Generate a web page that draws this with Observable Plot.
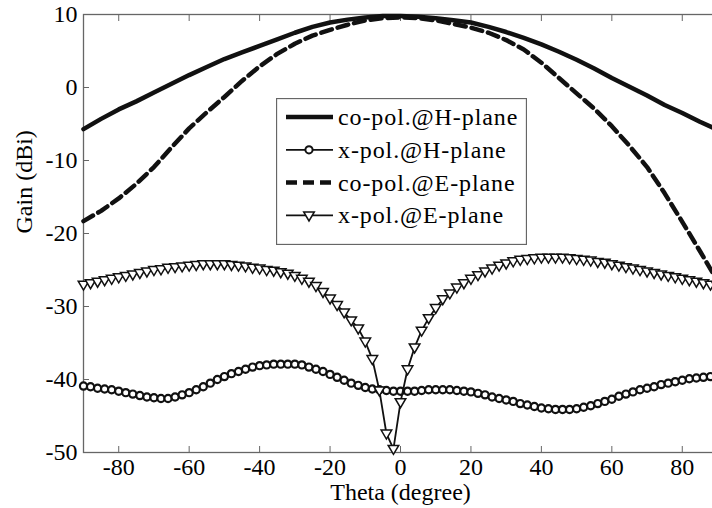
<!DOCTYPE html>
<html><head><meta charset="utf-8">
<script src="https://cdn.jsdelivr.net/npm/d3@7"></script>
<script src="https://cdn.jsdelivr.net/npm/@observablehq/plot@0.6"></script>
<style>
body{margin:0;background:#fff;}
#wrap{position:relative;width:712px;height:508px;overflow:hidden;background:#fff;}
#wrap svg text{font-family:'Liberation Serif','Times New Roman',serif;}
</style></head><body><div id="wrap"></div>
<script>
const xTicks = [-80, -60, -40, -20, 0, 20, 40, 60, 80];
const yTicks = [-50, -40, -30, -20, -10, 0, 10];
const seriesNames = ["co-pol.@H-plane", "x-pol.@H-plane", "co-pol.@E-plane", "x-pol.@E-plane"];

const theta5 = [-90,-85,-80,-75,-70,-65,-60,-55,-50,-45,-40,-35,-30,-25,-20,-15,-10,-5,0,5,10,15,20,25,30,35,40,45,50,55,60,65,70,75,80,85,90];
const coPolH = [-5.7,-4.3,-3.0,-1.9,-0.7,0.5,1.7,2.8,3.9,4.8,5.7,6.6,7.5,8.3,8.9,9.3,9.6,9.8,9.8,9.7,9.5,9.2,8.9,8.3,7.6,6.8,5.9,4.9,3.8,2.6,1.3,0.1,-1.1,-2.4,-3.5,-4.7,-5.8];
const coPolE = [-18.3,-16.9,-15.2,-13.2,-10.9,-8.2,-5.6,-3.4,-1.3,0.9,2.9,4.6,6.0,7.1,7.9,8.6,9.2,9.5,9.6,9.5,9.2,8.7,8.2,7.5,6.5,5.2,3.4,1.3,-0.8,-2.9,-5.3,-8.0,-10.9,-14.5,-18.4,-22.4,-26.5];

const theta2 = [-90,-88,-86,-84,-82,-80,-78,-76,-74,-72,-70,-68,-66,-64,-62,-60,-58,-56,-54,-52,-50,-48,-46,-44,-42,-40,-38,-36,-34,-32,-30,-28,-26,-24,-22,-20,-18,-16,-14,-12,-10,-8,-6,-4,-2,0,2,4,6,8,10,12,14,16,18,20,22,24,26,28,30,32,34,36,38,40,42,44,46,48,50,52,54,56,58,60,62,64,66,68,70,72,74,76,78,80,82,84,86,88,90];
const xPolH = [-40.9,-41.0,-41.2,-41.3,-41.4,-41.6,-41.8,-42.0,-42.2,-42.4,-42.5,-42.6,-42.6,-42.4,-42.1,-41.8,-41.4,-41.0,-40.5,-40.0,-39.6,-39.2,-38.9,-38.6,-38.3,-38.1,-38.0,-37.9,-37.9,-37.9,-37.9,-38.0,-38.3,-38.6,-38.9,-39.3,-39.7,-40.1,-40.5,-40.8,-41.1,-41.3,-41.4,-41.5,-41.6,-41.6,-41.6,-41.6,-41.5,-41.4,-41.4,-41.4,-41.4,-41.5,-41.6,-41.7,-41.9,-42.1,-42.4,-42.6,-42.8,-43.0,-43.3,-43.5,-43.7,-43.9,-44.0,-44.1,-44.1,-44.1,-44.0,-43.8,-43.6,-43.3,-43.0,-42.7,-42.3,-42.0,-41.7,-41.4,-41.2,-41.0,-40.7,-40.5,-40.3,-40.1,-39.9,-39.8,-39.7,-39.6,-39.5];
const xPolE = [-27.0,-26.8,-26.6,-26.4,-26.2,-26.0,-25.8,-25.6,-25.4,-25.2,-25.0,-24.9,-24.7,-24.6,-24.5,-24.4,-24.3,-24.2,-24.2,-24.2,-24.2,-24.3,-24.4,-24.5,-24.7,-24.8,-25.0,-25.1,-25.3,-25.5,-25.8,-26.2,-26.6,-27.2,-28.0,-28.9,-29.8,-30.8,-31.9,-33.0,-34.8,-37.2,-41.5,-47.4,-49.5,-43.1,-38.6,-35.6,-33.3,-31.6,-30.2,-29.0,-28.2,-27.4,-26.8,-26.2,-25.7,-25.2,-24.8,-24.4,-24.1,-23.8,-23.6,-23.5,-23.4,-23.3,-23.3,-23.3,-23.3,-23.4,-23.5,-23.6,-23.7,-23.9,-24.0,-24.2,-24.4,-24.6,-24.8,-25.0,-25.2,-25.4,-25.6,-25.8,-26.0,-26.2,-26.4,-26.6,-26.8,-27.0,-27.2];

const tbl5 = theta5.map((t, i) => ({t, h: coPolH[i], e: coPolE[i]}));
const tbl2 = theta2.map((t, i) => ({t, h: xPolH[i], e: xPolE[i]}));

// downward-pointing triangle symbol
const triDown = {
  draw(ctx, size) {
    const r = Math.sqrt(size / Math.PI);
    ctx.moveTo(-r * 1.15, -r * 0.75);
    ctx.lineTo(r * 1.15, -r * 0.75);
    ctx.lineTo(0, r * 1.2);
    ctx.closePath();
  }
};

const ink = "#111";
const axisGray = "#666";
const serif = "'Liberation Serif', 'Times New Roman', serif";
const fmt = d => String(d);

const chart = Plot.plot({
  width: 712,
  height: 508,
  marginLeft: 83,
  marginRight: -5,
  marginTop: 14,
  marginBottom: 56,
  style: {fontFamily: serif, fontSize: "24px", color: "#000", background: "#fff"},
  x: {domain: [-90, 90]},
  y: {domain: [-50, 10]},
  marks: [
    Plot.frame({stroke: axisGray, strokeWidth: 1.3}),
    Plot.axisX(xTicks, {anchor: "bottom", tickSize: -6, tickPadding: 11, tickFormat: fmt, stroke: axisGray, label: null, fill: "#000", fontFamily: serif, fontSize: 24}),
    Plot.axisX(xTicks, {anchor: "top", tickSize: -6, tickFormat: () => "", stroke: axisGray, label: null}),
    Plot.axisY(yTicks, {anchor: "left", tickSize: -6, tickPadding: 12, tickFormat: fmt, stroke: axisGray, label: null, fill: "#000", fontFamily: serif, fontSize: 24}),
    Plot.axisY(yTicks, {anchor: "right", tickSize: -6, tickFormat: () => "", stroke: axisGray, label: null}),
    Plot.text(["Theta (degree)"], {frameAnchor: "bottom", dy: 47, fontSize: 24, fontFamily: serif, fill: "#000"}),
    Plot.text(["Gain (dBi)"], {frameAnchor: "left", dx: -59, rotate: -90, fontSize: 24, fontFamily: serif, fill: "#000"}),
    Plot.line(tbl5, {x: "t", y: "h", stroke: ink, strokeWidth: 4.5}),
    Plot.line(tbl2, {x: "t", y: "h", stroke: ink, strokeWidth: 1.8}),
    Plot.dot(tbl2, {x: "t", y: "h", r: 3.6, stroke: ink, strokeWidth: 2.2, fill: "#fff"}),
    Plot.line(tbl5, {x: "t", y: "e", stroke: ink, strokeWidth: 4.5, strokeDasharray: "11,6"}),
    Plot.line(tbl2, {x: "t", y: "e", stroke: ink, strokeWidth: 1.8}),
    Plot.dot(tbl2, {x: "t", y: "e", r: 4.6, symbol: triDown, stroke: ink, strokeWidth: 1.5, fill: "#fff"})
  ]
});
document.getElementById("wrap").appendChild(chart);

// legend box
const lw = 250, lh = 146;
const lg = d3.create("svg").attr("width", lw + 1).attr("height", lh + 1)
  .style("position", "absolute").style("left", "276px").style("top", "98px");
lg.append("rect").attr("x", 0.5).attr("y", 0.5).attr("width", lw).attr("height", lh)
  .attr("fill", "#fff").attr("stroke", axisGray).attr("stroke-width", 1.3);
const styles = [
  {w: 4.5, dash: null, marker: null},
  {w: 1.8, dash: null, marker: "circle"},
  {w: 4.5, dash: "11,6", marker: null},
  {w: 1.8, dash: null, marker: "tri"}
];
seriesNames.forEach((name, i) => {
  const y = 19 + i * 32.8;
  const g = lg.append("g").attr("transform", `translate(0,${y})`);
  g.append("line").attr("x1", 10).attr("x2", 57).attr("y1", 0).attr("y2", 0)
    .attr("stroke", ink).attr("stroke-width", styles[i].w)
    .attr("stroke-dasharray", styles[i].dash);
  if (styles[i].marker === "circle") {
    g.append("circle").attr("cx", 33).attr("cy", 0).attr("r", 3.6)
      .attr("fill", "#fff").attr("stroke", ink).attr("stroke-width", 2);
  } else if (styles[i].marker === "tri") {
    g.append("path").attr("transform", "translate(33,0)")
      .attr("d", d3.symbol(triDown, Math.PI * 4.6 * 4.6)())
      .attr("fill", "#fff").attr("stroke", ink).attr("stroke-width", 1.5);
  }
  g.append("text").attr("x", 62).attr("y", 0).attr("dy", "0.33em")
    .attr("font-family", serif).attr("letter-spacing", "0.9px")
    .attr("font-size", 24).attr("fill", "#000").text(name);
});
document.getElementById("wrap").appendChild(lg.node());
</script>
</body></html>
